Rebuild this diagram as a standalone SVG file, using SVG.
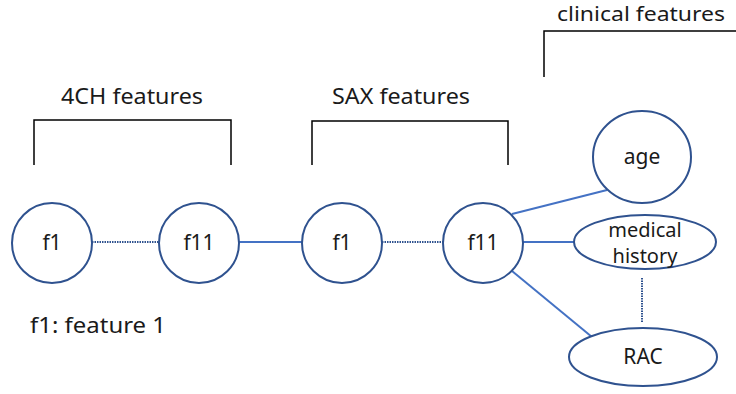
<svg xmlns="http://www.w3.org/2000/svg" width="736" height="394" viewBox="0 0 736 394">
<style>
.node{fill:#fff;stroke:#2F528F;stroke-width:2}
.lbl{font-family:"Noto Sans","Liberation Sans",sans-serif;font-size:21px;fill:#1a1a1a;text-anchor:middle}
.title{font-family:"Noto Sans","Liberation Sans",sans-serif;font-size:22px;fill:#1a1a1a;text-anchor:middle}
.solid{stroke:#4472C4;stroke-width:2;fill:none}
.dot{stroke:#2F528F;stroke-width:2;stroke-dasharray:1.5 1;fill:none}
.br{stroke:#000;stroke-width:1.5;fill:none}
</style>
<rect width="736" height="394" fill="#fff"/>
<g id="brackets">
<polyline class="br" points="34,165 34,120 231,120 231,165"/>
<polyline class="br" points="312,165 312,121 508,121 508,165"/>
<polyline class="br" points="544,77 544,31 736,31"/>
</g>
<g id="titles">
<text class="title" x="132" y="104" textLength="142" lengthAdjust="spacingAndGlyphs">4CH features</text>
<text class="title" x="401" y="104" textLength="138" lengthAdjust="spacingAndGlyphs">SAX features</text>
<text class="title" x="641" y="21" style="font-size:20px" textLength="168" lengthAdjust="spacingAndGlyphs">clinical features</text>
<text class="lbl" x="30" y="333" style="text-anchor:start;font-size:22px" textLength="136" lengthAdjust="spacingAndGlyphs">f1: feature 1</text>
</g>
<g id="connectors">
<line class="dot" x1="92" y1="242" x2="159" y2="242"/>
<line class="solid" x1="239" y1="242" x2="302" y2="242"/>
<line class="dot" x1="382" y1="242" x2="443" y2="242"/>
<line class="solid" x1="512" y1="214" x2="607" y2="190"/>
<line class="solid" x1="523" y1="242" x2="574" y2="242"/>
<line class="solid" x1="512" y1="271" x2="592" y2="337"/>
<line class="dot" x1="642" y1="278" x2="642" y2="323"/>
</g>
<g id="n-4ch-f1"><circle class="node" cx="52" cy="243" r="40"/><text class="lbl" x="52" y="250">f1</text></g>
<g id="n-4ch-f11"><circle class="node" cx="199" cy="243" r="40"/><text class="lbl" x="199" y="250">f11</text></g>
<g id="n-sax-f1"><circle class="node" cx="342" cy="243" r="40"/><text class="lbl" x="342" y="250">f1</text></g>
<g id="n-sax-f11"><circle class="node" cx="483" cy="243" r="40"/><text class="lbl" x="483" y="250">f11</text></g>
<g id="n-age"><ellipse class="node" cx="642" cy="157" rx="49" ry="46"/><text class="lbl" x="642" y="164">age</text></g>
<g id="n-medical"><ellipse class="node" cx="645" cy="242" rx="71" ry="27"/><text class="lbl" x="645" y="237" style="font-size:20px">medical</text><text class="lbl" x="645" y="263" style="font-size:20px">history</text></g>
<g id="n-rac"><ellipse class="node" cx="643" cy="357" rx="74" ry="29"/><text class="lbl" x="643" y="364">RAC</text></g>
</svg>
